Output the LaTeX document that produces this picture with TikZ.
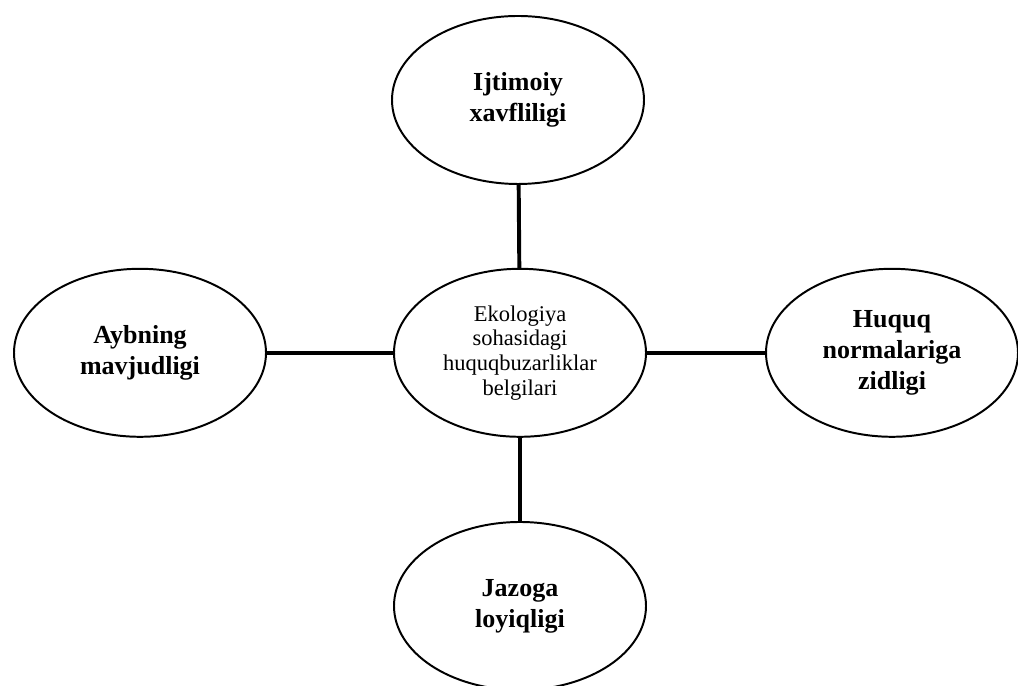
\documentclass[tikz,border=0pt]{standalone}
\usepackage{fontspec}
\setmainfont{Liberation Serif}
\usetikzlibrary{positioning}
\usetikzlibrary{shapes.geometric}

\begin{document}
\begin{tikzpicture}[
	sign/.style={ellipse, draw=black, line width=1.4pt, minimum width=6.3cm, minimum height=4.2cm, inner sep=0pt, align=center, font=\fontsize{18.5}{22}\selectfont\bfseries},
	core/.style={sign, font=\fontsize{16}{17.5}\selectfont},
	link/.style={-, line width=2.8pt}
]

	\useasboundingbox (0, 0) rectangle (25.45, 17.15);

	% centre
	\node[core] (core) at (13.0, 8.33) {Ekologiya\\sohasidagi\\huquqbuzarliklar\\belgilari};

	% signs
	\node[sign] (social) at (12.95, 14.65) {Ijtimoiy\\xavfliligi};
	\node[sign] (guilt) at (3.5, 8.33) {Aybning\\mavjudligi};
	\node[sign] (norms) at (22.3, 8.33) {Huquq\\normalariga\\zidligi};
	\node[sign] (penalty) at (13.0, 2.0) {Jazoga\\loyiqligi};

	% links
	\draw[link] (core) -- (social);
	\draw[link] (core) -- (guilt);
	\draw[link] (core) -- (norms);
	\draw[link] (core) -- (penalty);

\end{tikzpicture}
\end{document}
